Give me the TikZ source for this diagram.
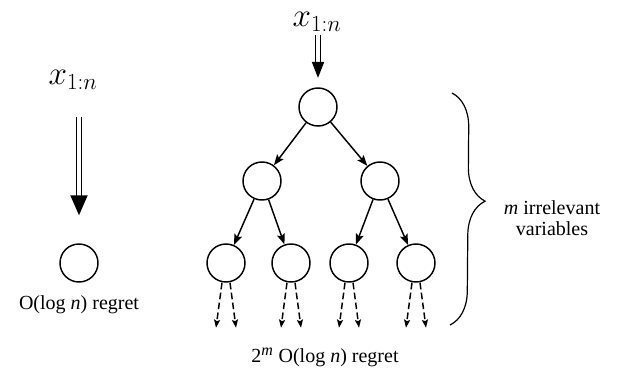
\documentclass[tikz,border=0pt]{standalone}
\usepackage{fontspec}
\setmainfont{Liberation Serif}
\usetikzlibrary{arrows.meta,decorations.pathreplacing}

\begin{document}
\begin{tikzpicture}[x=0.75pt, y=-0.75pt,
		var/.style={draw, circle, line width=1.1pt, minimum size=28.5pt, inner sep=0pt},
		feed/.style={double, double distance=2.4pt, line width=1.4pt},
		edge/.style={line width=1.1pt, -{Stealth[length=8pt,width=6pt,inset=1.5pt]}},
		tail/.style={line width=1.1pt, dash pattern=on 5pt off 2.5pt, -{Stealth[length=6pt,width=4.5pt,inset=1pt]}},
		lbl/.style={font=\fontsize{15}{16}\selectfont, align=center},
		inp/.style={font=\fontsize{23}{26}\selectfont, inner sep=1pt}]
			%%%%% START %%%%%
			
			\useasboundingbox (0,0) rectangle (624,385);
			
			% one variable
			\node[inp] (xs) at (73,80) {$x_{1:n}$};
			\node[var] (s) at (79,263) {};
			\node[lbl] (sr) at (79,305) {O(log \textit{n}) regret};
			\draw[feed, shorten <=19.5pt, shorten >=21pt, -{Triangle[length=15pt,width=12.75pt]}] (s |- xs.south) -- (s.north);
			
			% tree of variables
			\node[inp] (xt) at (317,22) {$x_{1:n}$};
			\node[var] (r) at (318,107) {};
			\node[var] (a) at (262,181) {};
			\node[var] (b) at (380,181) {};
			\node[var] (a1) at (226,263) {};
			\node[var] (a2) at (291,263) {};
			\node[var] (b1) at (349,263) {};
			\node[var] (b2) at (416,263) {};
			\draw[feed, shorten <=1pt, shorten >=7pt, -{Triangle[length=12pt,width=9pt]}] (r |- xt.south) -- (r.north);
			
			\foreach \p/\c in {r/a, r/b, a/a1, a/a2, b/b1, b/b2}
				\draw[edge] (\p) -- (\c);
			
			\foreach \n in {a1, a2, b1, b2} {
				\draw[tail] ([xshift=-3pt]\n.south) -- ++(-6,45);
				\draw[tail] ([xshift=3pt]\n.south) -- ++(6,45);
			}
			
			\node[lbl] (tr) at (325,357) {2\textsuperscript{\fontsize{12}{12}\selectfont\textit{m}} O(log \textit{n}) regret};
			
			% brace over the levels
			\draw[line width=0.9pt, decorate, decoration={brace, amplitude=25.5pt, aspect=0.465}] (452,93) -- (450,325);
			\node[lbl] (mv) at (552,218) {\textit{m} irrelevant\\variables};
			
			%%%%% END %%%%%
		\end{tikzpicture}
\end{document}
